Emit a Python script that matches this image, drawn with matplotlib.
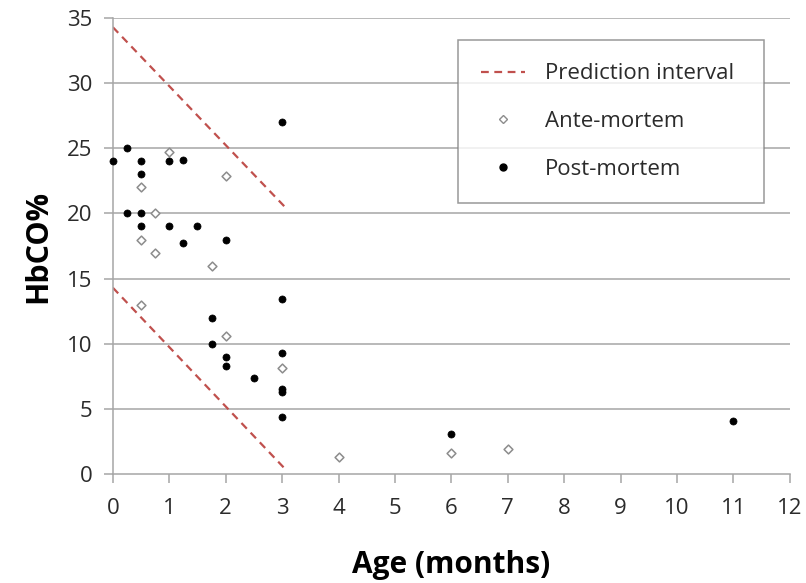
import matplotlib
matplotlib.use("Agg")
import matplotlib.pyplot as plt
from matplotlib.lines import Line2D

plt.rcParams['font.family'] = ['Open Sans', 'DejaVu Sans']

# Ante-mortem (open diamonds)
ante_age = [1.0, 2.0, 0.5, 0.75, 0.5, 0.75, 1.75, 0.5, 2.0, 3.0, 4.0, 6.0, 7.0]
ante_hbco = [24.7, 22.9, 22.0, 20.0, 18.0, 17.0, 16.0, 13.0, 10.6, 8.1, 1.3, 1.6, 1.9]

# Post-mortem (filled circles)
post_age = [0.0, 0.25, 0.5, 0.5, 1.0, 1.25, 3.0, 0.25, 0.5, 0.5, 1.0, 1.5, 1.25, 2.0,
            1.75, 3.0, 1.75, 2.0, 2.0, 3.0, 2.5, 3.0, 3.0, 3.0, 6.0, 11.0]
post_hbco = [24.0, 25.0, 24.0, 23.0, 24.0, 24.1, 27.0, 20.0, 20.0, 19.0, 19.0, 19.0, 17.75, 18.0,
             12.0, 13.4, 10.0, 9.0, 8.3, 9.3, 7.4, 6.3, 6.5, 4.35, 3.05, 4.05]

# Prediction interval lines
pi_x = [0.0, 3.05]
pi_upper = [34.3, 20.5]
pi_lower = [14.3, 0.4]

x_ticks = list(range(0, 13))
y_ticks = list(range(0, 36, 5))

fig = plt.figure(figsize=(8.06, 5.83), dpi=100)
ax = fig.add_axes([0.140, 0.187, 0.840, 0.782])

grid_c = '#A6A6A6'
red = '#C0504D'
txt_c = '#2B2B2B'

for y in y_ticks[1:]:
    ax.axhline(y, color=grid_c, lw=1.1, zorder=1)

ax.plot(pi_x, pi_upper, ls=(0, (3.5, 2.5)), color=red, lw=1.6, zorder=2)
ax.plot(pi_x, pi_lower, ls=(0, (3.5, 2.5)), color=red, lw=1.6, zorder=2)

ax.scatter(ante_age, ante_hbco, marker='D', s=20, facecolor='white',
           edgecolor='#8C8C8C', linewidths=1.1, zorder=3, clip_on=False)
ax.scatter(post_age, post_hbco, marker='o', s=26, facecolor='black',
           edgecolor='black', linewidths=0.5, zorder=4, clip_on=False)

ax.set_xlim(0, 12)
ax.set_ylim(0, 35)
ax.set_xticks(x_ticks)
ax.set_yticks(y_ticks)
ax.tick_params(axis='both', colors=grid_c, length=6.5, width=1.1, labelsize=16,
               labelcolor=txt_c)
ax.tick_params(axis='x', pad=11)
ax.tick_params(axis='y', pad=8)

for s in ['top', 'right']:
    ax.spines[s].set_visible(False)
for s in ['left', 'bottom']:
    ax.spines[s].set_color(grid_c)
    ax.spines[s].set_linewidth(1.1)

ax.set_xlabel('Age (months)', fontsize=21.5, fontweight='bold', labelpad=22, color='black')
ax.set_ylabel('HbCO%', fontsize=22, fontweight='bold', labelpad=10, color='black')

handles = [
    Line2D([0], [0], ls=(0, (3.5, 2.5)), color=red, lw=1.6),
    Line2D([0], [0], ls='none', marker='D', markersize=4.2, markerfacecolor='white',
           markeredgecolor='#8C8C8C', markeredgewidth=1.0),
    Line2D([0], [0], ls='none', marker='o', markersize=5, markerfacecolor='black',
           markeredgecolor='black'),
]
labels = ['Prediction interval', 'Ante-mortem', 'Post-mortem']
leg = ax.legend(handles, labels, loc='upper left', bbox_to_anchor=(0.5096, 0.0, 0.452, 0.9518),
                mode='expand', frameon=True, fancybox=False, edgecolor='#808080', fontsize=16,
                labelspacing=1.2, borderpad=1.05, handlelength=1.95, handletextpad=0.9,
                borderaxespad=0)
leg.get_frame().set_linewidth(1.1)
for t in leg.get_texts():
    t.set_color(txt_c)

fig.savefig('out.png', dpi=100)
